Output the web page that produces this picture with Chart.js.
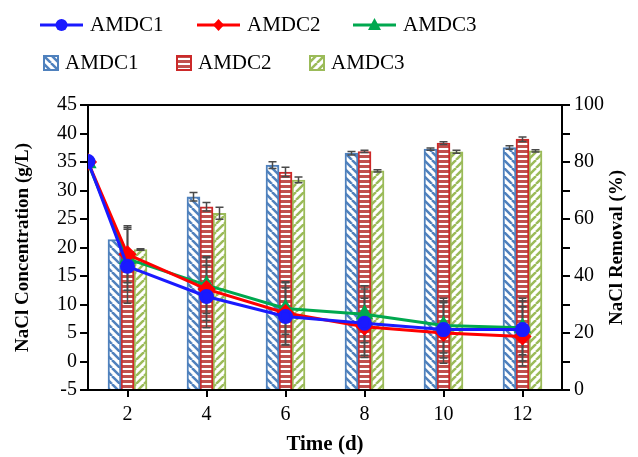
<!DOCTYPE html>
<html>
<head>
<meta charset="utf-8">
<script src="https://cdn.jsdelivr.net/npm/chart.js@4.4.0/dist/chart.umd.min.js"></script>
<style>
  body { margin: 0; background: #fff; }
  #wrap { position: relative; width: 638px; height: 457px; }
  .leg { position: absolute; display: flex; align-items: center; font-family: "Liberation Serif", "Times New Roman", serif; font-size: 21px; color: #000; }
  .leg canvas { margin-right: 7px; }
</style>
</head>
<body>
<div id="wrap">
  <canvas id="chart" width="638" height="457"></canvas>
  <div id="legend"></div>
</div>
<script>
const days = [2, 4, 6, 8, 10, 12];
const lineDays = [1, 2, 4, 6, 8, 10, 12];
const seriesNames = ['AMDC1', 'AMDC2', 'AMDC3'];

// NaCl concentration (g/L) - lines, left axis
const concAMDC1 = [35.1, 16.7, 11.4, 7.9, 6.7, 5.6, 5.6];
const concAMDC2 = [35.0, 18.8, 12.7, 8.5, 6.1, 5.0, 4.4];
const concAMDC3 = [34.8, 18.0, 13.4, 9.3, 8.3, 6.3, 5.9];
const concErr1 = [0, 6.5, 5.5, 5.0, 6.0, 5.0, 5.5];
const concErr2 = [0, 5.0, 5.5, 5.5, 5.0, 5.3, 5.2];
const concErr3 = [0, 5.5, 5.0, 4.5, 5.0, 4.8, 4.7];

// NaCl removal (%) - bars, right axis
const removalAMDC1 = [52.8, 67.8, 78.9, 83.1, 84.5, 85.1];
const removalAMDC2 = [48.7, 64.3, 76.5, 83.7, 86.6, 88.0];
const removalAMDC3 = [49.3, 62.0, 73.7, 76.9, 83.6, 83.9];
const removalErr1 = [0, 1.5, 1.2, 0.6, 0.4, 0.6];
const removalErr2 = [0, 1.5, 1.7, 0.4, 0.5, 0.8];
const removalErr3 = [0.3, 2.1, 1.0, 0.4, 0.5, 0.4];

const lineColors = ['#1a1aff', '#ff0000', '#00a84f'];
const pointStyles = ['circle', 'rectRot', 'triangle'];
const pointSizes = [6, 7, 7];
const barStripe = ['#4f81bd', '#c0504d', '#9bbb59'];
const barBorder = ['#4f81bd', '#cc2929', '#9bbb59'];
const hatchKinds = ['back', 'h', 'fwd'];
const FONT = '"Liberation Serif", "Times New Roman", serif';

function makePattern(ctx, kind, color) {
  const s = kind === 'h' ? 5 : 8;
  const tile = document.createElement('canvas');
  tile.width = s; tile.height = s;
  const g = tile.getContext('2d');
  g.fillStyle = '#fff';
  g.fillRect(0, 0, s, s);
  g.fillStyle = color;
  g.strokeStyle = color;
  if (kind === 'h') {
    g.fillRect(0, 0, s, 3);
  } else {
    g.lineWidth = 2.5;
    for (let o = -s; o <= s; o += s) {
      g.beginPath();
      if (kind === 'back') { g.moveTo(o, 0); g.lineTo(o + s, s); }
      else { g.moveTo(o, s); g.lineTo(o + s, 0); }
      g.stroke();
    }
  }
  return ctx.createPattern(tile, 'repeat');
}

const canvas = document.getElementById('chart');
const ctx = canvas.getContext('2d');

const concSeries = [concAMDC1, concAMDC2, concAMDC3];
const concErrs = [concErr1, concErr2, concErr3];
const removalSeries = [removalAMDC1, removalAMDC2, removalAMDC3];
const removalErrs = [removalErr1, removalErr2, removalErr3];

// lines first so they are drawn on top of the bars
const datasets = [];
seriesNames.forEach((name, i) => {
  datasets.push({
    type: 'line',
    label: name,
    data: lineDays.map((d, j) => ({ x: d, y: concSeries[i][j] })),
    xAxisID: 'x',
    yAxisID: 'y',
    borderColor: lineColors[i],
    backgroundColor: lineColors[i],
    borderWidth: 3,
    pointStyle: pointStyles[i],
    pointRadius: pointSizes[i],
    pointBackgroundColor: lineColors[i],
    pointBorderColor: lineColors[i],
    tension: 0
  });
});
seriesNames.forEach((name, i) => {
  datasets.push({
    type: 'bar',
    label: name,
    data: days.map((d, j) => ({ x: d, y: removalSeries[i][j] })),
    xAxisID: 'x',
    yAxisID: 'y2',
    backgroundColor: makePattern(ctx, hatchKinds[i], barStripe[i]),
    borderColor: barBorder[i],
    borderWidth: 2,
    barThickness: 13
  });
});

function drawErr(c, x, y1, y2, half) {
  c.beginPath();
  c.moveTo(x, y1); c.lineTo(x, y2);
  c.moveTo(x - half, y1); c.lineTo(x + half, y1);
  c.moveTo(x - half, y2); c.lineTo(x + half, y2);
  c.stroke();
}

// error bars drawn after the bars, before the lines
const errorBars = {
  id: 'errorBars',
  beforeDatasetDraw(chart, args) {
    if (args.index !== 2) return;
    const c = chart.ctx;
    const x = chart.scales.x, y = chart.scales.y, y2 = chart.scales.y2;
    c.save();
    c.strokeStyle = '#4a4a4a';
    c.lineWidth = 1.5;
    removalSeries.forEach((vals, i) => {
      const meta = chart.getDatasetMeta(3 + i);
      vals.forEach((v, j) => {
        const e = removalErrs[i][j];
        if (!e) return;
        drawErr(c, meta.data[j].x, y2.getPixelForValue(v + e), y2.getPixelForValue(v - e), 4);
      });
    });
    concSeries.forEach((vals, i) => {
      vals.forEach((v, j) => {
        const e = concErrs[i][j];
        if (!e) return;
        drawErr(c, x.getPixelForValue(lineDays[j]), y.getPixelForValue(v + e), y.getPixelForValue(v - e), 4);
      });
    });
    c.restore();
  }
};

const frame = {
  id: 'frame',
  afterDraw(chart) {
    const c = chart.ctx, a = chart.chartArea;
    c.save();
    c.strokeStyle = '#000';
    c.lineWidth = 2;
    c.beginPath();
    c.moveTo(a.left, a.top); c.lineTo(a.right, a.top);
    c.stroke();
    // right axis title, reading bottom to top
    c.translate(617, (a.top + a.bottom) / 2);
    c.rotate(-Math.PI / 2);
    c.font = 'bold 19px ' + FONT;
    c.fillStyle = '#000';
    c.textAlign = 'center';
    c.textBaseline = 'middle';
    c.fillText('NaCl Removal (%)', 0, 0);
    c.restore();
  }
};

const tickFont = { family: FONT, size: 20 };

new Chart(ctx, {
  data: { datasets: datasets },
  options: {
    indexAxis: 'x',
    responsive: false,
    animation: false,
    devicePixelRatio: 1,
    layout: { padding: { top: 105, left: 0, right: 0, bottom: 0 } },
    plugins: { legend: { display: false }, tooltip: { enabled: false } },
    scales: {
      x: {
        type: 'linear',
        min: 1, max: 13,
        offset: false,
        afterBuildTicks(s) { s.ticks = days.map(v => ({ value: v })); },
        grid: { drawOnChartArea: false, offset: false, tickLength: 7, color: '#000', lineWidth: 2 },
        border: { color: '#000', width: 2 },
        ticks: { color: '#000', font: tickFont, padding: 6 },
        title: { display: true, text: 'Time (d)', color: '#000', font: { family: FONT, size: 21, weight: 'bold' }, padding: { top: 0, bottom: 0 } },
        afterFit(s) { s.height = 67; }
      },
      y: {
        position: 'left',
        min: -5, max: 45,
        ticks: { stepSize: 5, color: '#000', font: tickFont, padding: 3 },
        grid: { drawOnChartArea: false, tickLength: 8, color: '#000', lineWidth: 2 },
        border: { color: '#000', width: 2 },
        title: { display: true, text: 'NaCl Concentration (g/L)', color: '#000', font: { family: FONT, size: 19, weight: 'bold' }, padding: { top: 12, bottom: 0 } },
        afterFit(s) { s.width = 88; }
      },
      y2: {
        position: 'right',
        min: 0, max: 100,
        ticks: { stepSize: 10, color: '#000', font: tickFont, padding: 4, callback: v => (v % 20 === 0 ? v : '') },
        grid: { drawOnChartArea: false, tickLength: 8, color: '#000', lineWidth: 2 },
        border: { color: '#000', width: 2 },
        afterFit(s) { s.width = 76; }
      }
    }
  },
  plugins: [errorBars, frame]
});

// legend: two rows, lines on top, bars below
const legend = document.getElementById('legend');
const lineLegX = [40, 197, 353];
const barLegX = [43, 176, 309];
seriesNames.forEach((name, i) => {
  const item = document.createElement('div');
  item.className = 'leg';
  item.style.left = lineLegX[i] + 'px';
  item.style.top = '12px';
  const c = document.createElement('canvas');
  c.width = 43; c.height = 18;
  const g = c.getContext('2d');
  g.strokeStyle = lineColors[i]; g.fillStyle = lineColors[i]; g.lineWidth = 3;
  g.beginPath(); g.moveTo(0, 9); g.lineTo(43, 9); g.stroke();
  g.beginPath();
  if (pointStyles[i] === 'circle') g.arc(21.5, 9, 6, 0, Math.PI * 2);
  else if (pointStyles[i] === 'rectRot') { g.moveTo(21.5, 3); g.lineTo(27, 9); g.lineTo(21.5, 15); g.lineTo(16, 9); }
  else { g.moveTo(21.5, 2); g.lineTo(28, 14); g.lineTo(15, 14); }
  g.closePath(); g.fill();
  item.appendChild(c);
  item.appendChild(document.createTextNode(name));
  legend.appendChild(item);

  const bItem = document.createElement('div');
  bItem.className = 'leg';
  bItem.style.left = barLegX[i] + 'px';
  bItem.style.top = '50px';
  const b = document.createElement('canvas');
  b.width = 16; b.height = 16;
  const bg = b.getContext('2d');
  bg.fillStyle = makePattern(bg, hatchKinds[i], barStripe[i]);
  bg.fillRect(0, 0, 16, 16);
  bg.strokeStyle = barBorder[i]; bg.lineWidth = 2;
  bg.strokeRect(1, 1, 14, 14);
  b.style.marginRight = '6px';
  bItem.appendChild(b);
  bItem.appendChild(document.createTextNode(name));
  legend.appendChild(bItem);
});
</script>
</body>
</html>
